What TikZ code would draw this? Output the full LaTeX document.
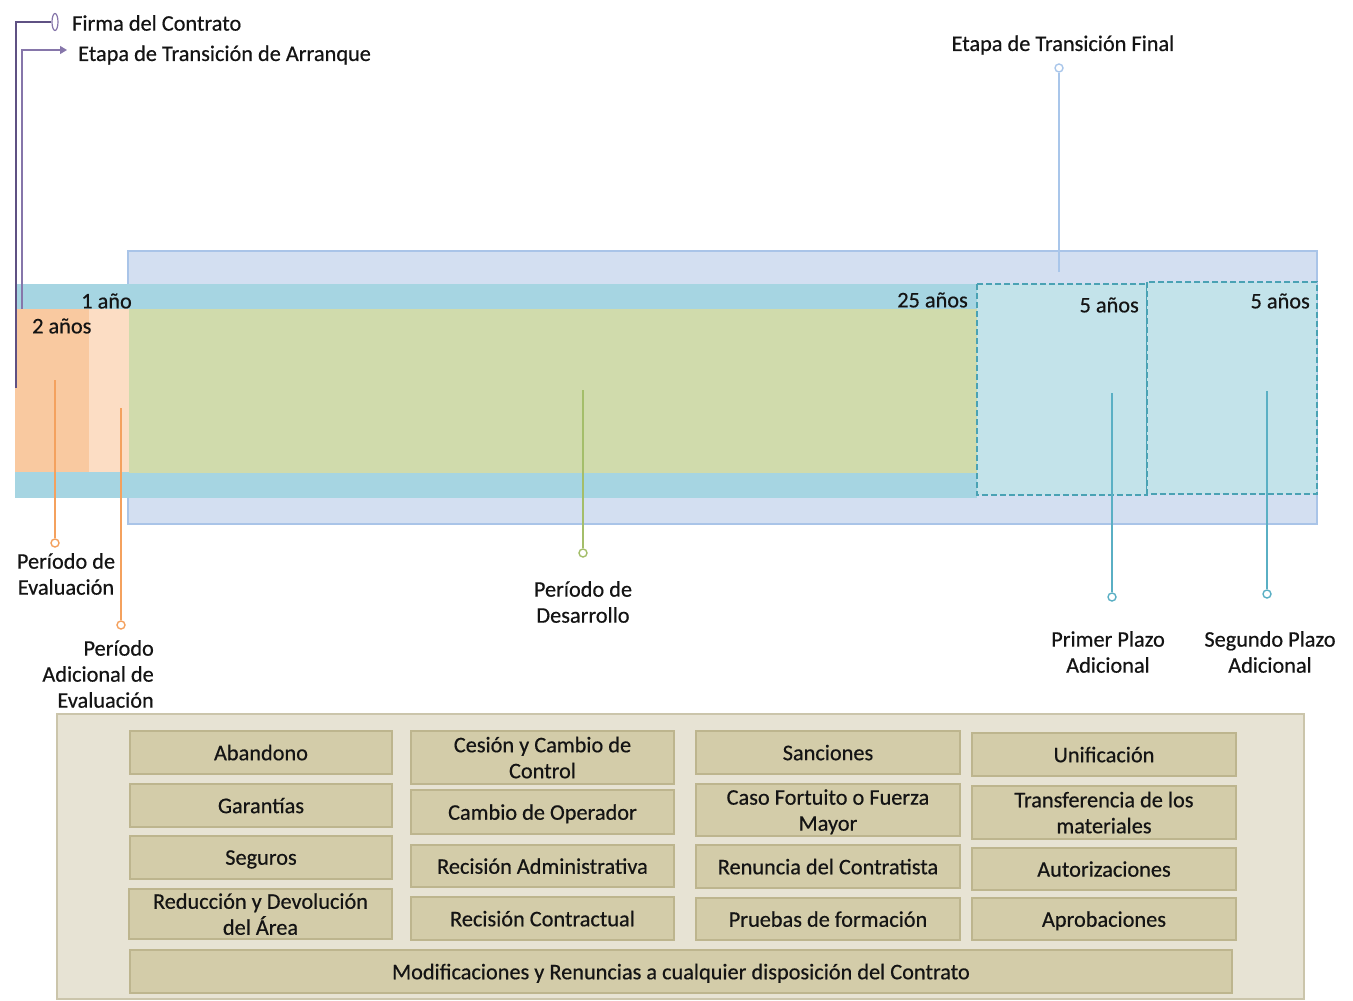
\documentclass[tikz,border=0pt]{standalone}
\usepackage{fontspec}
\setmainfont{Carlito}[FakeBold=0.5]
\usetikzlibrary{arrows.meta,shapes.geometric}
\definecolor{txt}{HTML}{141414}
\definecolor{outerfill}{HTML}{D3DFF1}
\definecolor{outerdraw}{HTML}{A9C4E8}
\definecolor{band}{HTML}{A6D5E2}
\definecolor{orangeA}{HTML}{F9C9A0}
\definecolor{orangeB}{HTML}{FCDDC4}
\definecolor{greenA}{HTML}{D0DBAC}
\definecolor{tealfill}{HTML}{C3E3EA}
\definecolor{tealdraw}{HTML}{4AA2B4}
\definecolor{pinorange}{HTML}{F4A15E}
\definecolor{pingreen}{HTML}{A4BE6A}
\definecolor{pinblue}{HTML}{A9C6EA}
\definecolor{pinteal}{HTML}{5AAFC4}
\definecolor{purpleA}{HTML}{5F5183}
\definecolor{purpleB}{HTML}{8676AA}
\definecolor{panelfill}{HTML}{E7E3D4}
\definecolor{paneldraw}{HTML}{CBC5AB}
\definecolor{boxfill}{HTML}{D3CCA9}
\definecolor{boxdraw}{HTML}{BDB58E}
\tikzset{
  lab/.style={font=\fontsize{22.3}{26}\selectfont, text=txt, inner sep=0pt},
  pin/.style={circle, draw=#1, fill=white, line width=1.4pt, inner sep=0pt, minimum size=8pt},
  pinline/.style={draw=#1, line width=1.3pt},
  dbox/.style={draw=tealdraw, fill=tealfill, line width=1.6pt, dash pattern=on 6pt off 3pt},
  itembox/.style={draw=boxdraw, fill=boxfill, line width=1.5pt, align=center,
     font=\fontsize{22.3}{26}\selectfont, text=txt, inner sep=0pt, text depth=0pt},
}
\begin{document}
\begin{tikzpicture}[x=1pt,y=-1pt]
\useasboundingbox (0,0) rectangle (1353,1001);
% --- timeline bars
\draw[fill=outerfill, draw=outerdraw, line width=1.5pt] (128,251) rectangle (1317,524);
\fill[band] (15,284) rectangle (977,498);
\fill[orangeA] (15,309) rectangle (89,472);
\fill[orangeB] (89,309) rectangle (129,472);
\fill[greenA] (129,309) rectangle (977,473);
\draw[dbox] (977,284) rectangle (1147,495);
\draw[dbox] (1147,282) rectangle (1317,494);
% --- period labels
\node[lab, anchor=east] (a1) at (132,301) {1 año};
\node[lab, anchor=west] (a2) at (32,326) {2 años};
\node[lab, anchor=east] (a25) at (968,300) {25 años};
\node[lab, anchor=east] (a5a) at (1139,305) {5 años};
\node[lab, anchor=east] (a5b) at (1310,301) {5 años};
% --- top left connectors
\node[ellipse, draw=purpleB, fill=white, line width=1.2pt, inner sep=0pt, minimum width=6pt, minimum height=17pt] (firmaE) at (55,22) {};
\node[lab, anchor=west] (firma) at (72,23) {Firma del Contrato};
\coordinate (firmaEnd) at (16,388);
\draw[purpleA, line width=1.3pt] (firmaE.west) -| (firmaEnd);
\node[lab, anchor=west] (arranque) at (78,55) {Etapa de Transición de Arranque};
\coordinate (arrTip) at (67,50);
\coordinate (arrStart) at (22,309);
\draw[purpleB, line width=1.3pt, -{Triangle[length=7pt,width=8pt]}] (arrStart) |- (arrTip);
% --- pins
\coordinate (t1) at (55,380);
\node[pin=pinorange] (p1) at (55,543) {};
\draw[pinline=pinorange] (t1) -- (p1);
\node[lab, align=center] (l1) at (66,574) {Período de\\Evaluación};
\coordinate (t2) at (121,408);
\node[pin=pinorange] (p2) at (121,625) {};
\draw[pinline=pinorange] (t2) -- (p2);
\node[lab, align=right, anchor=east] (l2) at (154,674) {Período\\Adicional de\\Evaluación};
\coordinate (t3) at (583,390);
\node[pin=pingreen] (p3) at (583,553) {};
\draw[pinline=pingreen] (t3) -- (p3);
\node[lab, align=center] (l3) at (583,602) {Período de\\Desarrollo};
\coordinate (t4) at (1059,272);
\node[pin=pinblue] (p4) at (1059,68) {};
\draw[pinline=pinblue] (t4) -- (p4);
\node[lab] (l4) at (1063,45) {Etapa de Transición Final};
\coordinate (t5) at (1112,393);
\node[pin=pinteal] (p5) at (1112,597) {};
\draw[pinline=pinteal] (t5) -- (p5);
\node[lab, align=center] (l5) at (1108,652) {Primer Plazo\\Adicional};
\coordinate (t6) at (1267,391);
\node[pin=pinteal] (p6) at (1267,594) {};
\draw[pinline=pinteal] (t6) -- (p6);
\node[lab, align=center] (l6) at (1270,652) {Segundo Plazo\\Adicional};
% --- bottom panel
\draw[fill=panelfill, draw=paneldraw, line width=1.5pt] (57,714) rectangle (1304,999);
\node[itembox, minimum width=262pt, minimum height=43pt] (b11) at (261,752.5) {Abandono};
\node[itembox, minimum width=262pt, minimum height=43pt] (b12) at (261,805.5) {Garantías};
\node[itembox, minimum width=262pt, minimum height=43pt] (b13) at (261,857.5) {Seguros};
\node[itembox, minimum width=263pt, minimum height=50pt] (b14) at (260.5,914) {Reducción y Devolución\\del Área};
\node[itembox, minimum width=263pt, minimum height=53pt] (b21) at (542.5,757.5) {Cesión y Cambio de\\Control};
\node[itembox, minimum width=263pt, minimum height=44pt] (b22) at (542.5,812) {Cambio de Operador};
\node[itembox, minimum width=263pt, minimum height=42pt] (b23) at (542.5,866) {Recisión Administrativa};
\node[itembox, minimum width=263pt, minimum height=43pt] (b24) at (542.5,918.5) {Recisión Contractual};
\node[itembox, minimum width=264pt, minimum height=43pt] (b31) at (828,752.5) {Sanciones};
\node[itembox, minimum width=264pt, minimum height=52pt] (b32) at (828,810) {Caso Fortuito o Fuerza\\Mayor};
\node[itembox, minimum width=264pt, minimum height=43pt] (b33) at (828,866.5) {Renuncia del Contratista};
\node[itembox, minimum width=264pt, minimum height=42pt] (b34) at (828,919) {Pruebas de formación};
\node[itembox, minimum width=264pt, minimum height=43pt] (b41) at (1104,754.5) {Unificación};
\node[itembox, minimum width=264pt, minimum height=53pt] (b42) at (1104,812.5) {Transferencia de los\\materiales};
\node[itembox, minimum width=264pt, minimum height=42pt] (b43) at (1104,869) {Autorizaciones};
\node[itembox, minimum width=264pt, minimum height=42pt] (b44) at (1104,919) {Aprobaciones};
\node[itembox, minimum width=1102pt, minimum height=43pt] (b5) at (681,971.5) {Modificaciones y Renuncias a cualquier disposición del Contrato};
\end{tikzpicture}
\end{document}
